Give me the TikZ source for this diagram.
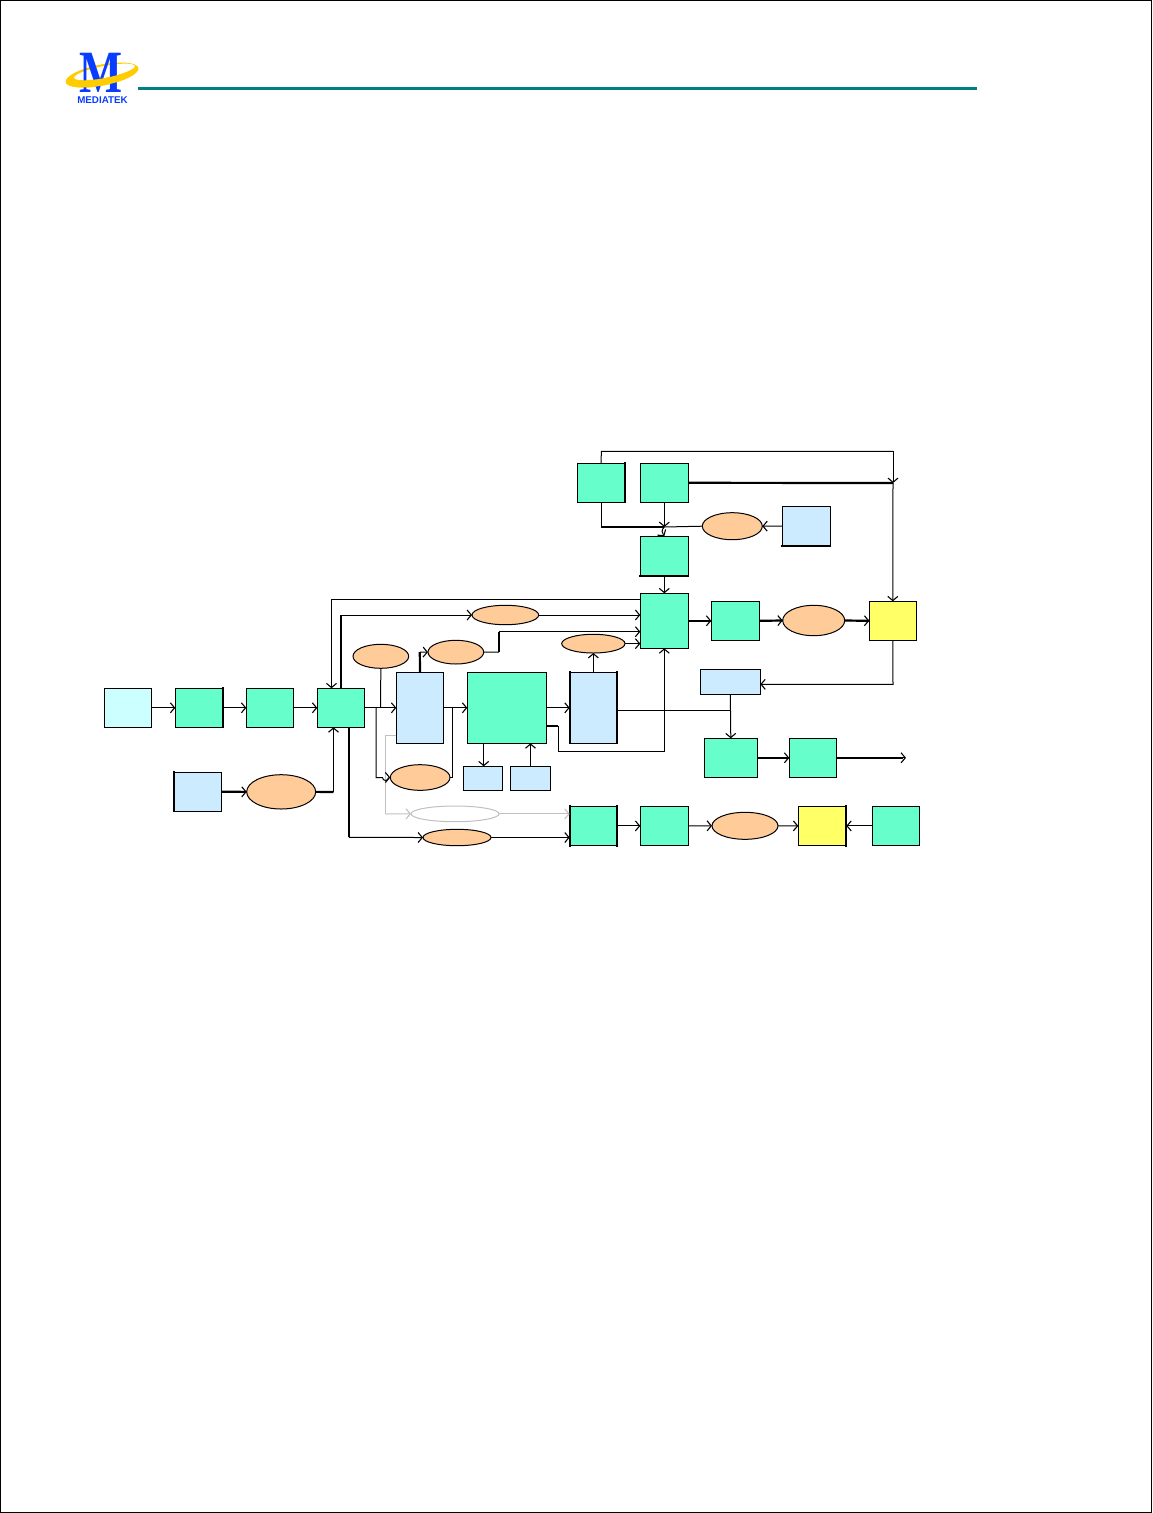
\documentclass[tikz,border=0pt]{standalone}
\usepackage{fontspec}
\setmainfont{Liberation Sans}
\newfontfamily\logoserif{Liberation Serif}
\usetikzlibrary{arrows.meta,shapes.geometric,calc}
\definecolor{grn}{HTML}{66FFCC}
\definecolor{cyn}{HTML}{CCFFFF}
\definecolor{blu}{HTML}{CCEBFF}
\definecolor{org}{HTML}{FFCC99}
\definecolor{yel}{HTML}{FFFF66}
\definecolor{teal2}{HTML}{008080}
\definecolor{logoblue}{HTML}{0A3CFF}
\definecolor{logogold}{HTML}{FFCC00}
\definecolor{gry}{HTML}{C0C0C0}
\tikzset{
  boxbase/.style={draw=black,line width=1pt,inner sep=0pt,outer sep=0pt},
  gbox/.style={boxbase,rectangle,fill=grn},
  cbox/.style={boxbase,rectangle,fill=cyn},
  bbox/.style={boxbase,rectangle,fill=blu},
  ybox/.style={boxbase,rectangle,fill=yel},
  oell/.style={boxbase,ellipse,fill=org},
  gell/.style={boxbase,ellipse,draw=gry,fill=white},
  wire/.style={line width=1pt,draw=black},
  thk/.style={line width=2.2pt,draw=black},
  side/.style={line width=2.2pt,draw=black,line cap=rect},
  tip/.style={-{Straight Barb[length=4.2pt,width=10pt,line width=1.1pt]}},
  gwire/.style={line width=1pt,draw=gry},
}
\newcommand\bx[6]{\node[#6,minimum width={(#4-#2)*1pt},minimum height={(#5-#3)*1pt}] (#1) at ({(#2+#4)/2},{(#3+#5)/2}) {};}
\newcommand\logoring{\fill[logogold,even odd rule,rotate around={11:(102,75)}] (102,75) ellipse [x radius=37,y radius=10.5] (105,72.5) ellipse [x radius=31,y radius=6];}
\begin{document}
\begin{tikzpicture}[x=1pt,y=-1pt]
\useasboundingbox (0,0) rectangle (1152,1513);
\draw[line width=1pt,black] (0.5,0.5) rectangle (1151.5,1512.5);
% logo
\logoring
\node[inner sep=0pt,text=logoblue,xscale=0.76,font=\logoserif\bfseries\fontsize{60}{60}\selectfont] (logoM) at (101.5,73) {M};
\begin{scope}
\clip[rotate around={11:(102,75)}] (60,75) rectangle (145,90);
\logoring
\end{scope}
\node[inner sep=0pt,text=logoblue,font=\bfseries\fontsize{9.8}{9.8}\selectfont] (logoT) at (102.5,100) {MEDIATEK};
\coordinate (ruleA) at (138,88.5);
\coordinate (ruleB) at (977,88.5);
\draw[teal2,line width=3pt] (ruleA) -- (ruleB);
% boxes
\bx{A}{104.3}{688.3}{151.7}{727.3}{cbox}
\bx{B}{175.3}{688.3}{223}{727.3}{gbox}
\bx{C}{246.3}{688.3}{293.7}{727.3}{gbox}
\bx{D}{317.3}{688.3}{364.3}{727.3}{gbox}
\bx{E}{174}{772.3}{221.3}{811.3}{bbox}
\bx{Eo}{246.7}{774.7}{315.7}{809}{oell}
\bx{e1}{472}{605.3}{538.7}{624.7}{oell}
\bx{e2}{353}{644.3}{408.7}{668.3}{oell}
\bx{e3}{428}{640.3}{483.7}{664}{oell}
\bx{e4}{561.7}{634.3}{625}{653}{oell}
\bx{e5}{390.3}{764.7}{450}{790.3}{oell}
\bx{e6}{423}{829.3}{491}{845.7}{oell}
\bx{eg}{411}{806}{499}{821.7}{gell}
\bx{F}{396.3}{672.3}{443.7}{743.3}{bbox}
\bx{G}{467.3}{672.3}{546.7}{743.3}{gbox}
\bx{H}{569.7}{672.3}{617}{743.3}{bbox}
\bx{s1}{463.3}{766.3}{502.7}{790.3}{bbox}
\bx{s2}{510.3}{766.3}{550.7}{790.3}{bbox}
\bx{I}{569.7}{806.3}{617}{845.5}{gbox}
\bx{J}{577.3}{463.3}{625}{502.3}{gbox}
\bx{K}{640.3}{463.3}{688.3}{502.3}{gbox}
\bx{e7}{702.3}{512.7}{762.3}{539.7}{oell}
\bx{L}{782.3}{506.3}{830.3}{546}{bbox}
\bx{M}{640.3}{536.3}{688.3}{576}{gbox}
\bx{N}{640.3}{593.3}{688.3}{648.3}{gbox}
\bx{O}{711.3}{601.3}{759.3}{640.3}{gbox}
\bx{e8}{782.7}{605.3}{844.7}{635.7}{oell}
\bx{Y}{869.3}{601.3}{916.3}{640.3}{ybox}
\bx{P}{700.3}{669.3}{760.3}{694.3}{bbox}
\bx{Q}{704.3}{738.3}{757.3}{777.3}{gbox}
\bx{R}{789.3}{738.3}{836.3}{777.3}{gbox}
\bx{S}{640.3}{806.3}{688.3}{845.5}{gbox}
\bx{e9}{712}{812.3}{778}{839.3}{oell}
\bx{T}{798.3}{806.3}{846.3}{845.5}{ybox}
\bx{U}{872.3}{806.3}{919.3}{845.5}{gbox}
% thick box sides
\draw[side] (B.north east) -- (B.south east);
\draw[side] (E.north west) -- (E.south west);
\draw[side] (H.north west) -- (H.south west);
\draw[side] (H.north east) -- (H.south east);
\draw[side] (I.north west) -- (I.south west);
\draw[side] (I.north east) -- (I.south east);
\draw[side] (J.north east) -- (J.south east);
\draw[side] (L.south west) -- (L.south east);
\draw[side] (M.south west) -- (M.south east);
\draw[side] (T.north east) -- (T.south east);
% named way points
\coordinate (x376) at (376,707.8);
\coordinate (x3805) at (380.5,707.8);
\coordinate (x4525) at (452.5,707.8);
\coordinate (gA) at (385.5,735);
\coordinate (gB) at (385.5,814);
\coordinate (hop) at (664.3,527);
\coordinate (wireK) at (893,483);
\coordinate (topL) at (601.3,451.3);
\coordinate (topR) at (893,451.3);
\coordinate (hJ) at (730.3,710.5);
% connectors: left chain
\draw[wire,tip] (A.east) -- (B.west);
\draw[wire,tip] (B.east) -- (C.west);
\draw[wire,tip] (C.east) -- (D.west);
\draw[thk] (E.east) -- (Eo.west);
\draw[wire,tip] (E.east) -- (Eo.west);
\draw[thk] (Eo.east) -- (333.5,792);
\draw[wire,tip] (333.5,792) -- (333.5,727.3);
% top feedback lines
\draw[wire,tip] (N.west |- 0,599.5) -- (331.5,599.5) -- (331.5,688.3);
\draw[thk] (D.north) -- (340.8,615);
\draw[wire,tip] (340.8,615) -- (e1.west);
\draw[wire,tip] (e1.east) -- (e1.east -| N.west);
% D to F and branches
\draw[wire,tip] (D.east) -- (F.west);
\draw[wire] (e2.south) -- (x3805);
\draw[gwire] (F.west |- gA) -- (gA) -- (gB);
\draw[gwire,tip] (gB) -- (eg.west);
\draw[gwire,tip] (eg.east) -- (I.west |- eg.east);
\draw[wire] (x376) -- (376,777.5) -- (382.5,777.5) arc[start angle=180,end angle=0,radius=3];
\draw[wire,tip] (388.5,777.5) -- (e5.west);
\draw[wire] (e5.east) -- (452.5,777.5) -- (x4525);
\draw[wire,tip] (F.east) -- (G.west);
% F top
\draw[thk] (F.north) -- (419.8,652);
\draw[wire,tip] (419.8,652) -- (e3.west);
\draw[wire] (e3.east) -- (499,652);
\draw[thk] (499,652) -- (499,631.7);
\draw[wire,tip] (499,631.7) -- (N.west |- 0,631.7);
% G and H
\draw[wire,tip] (G.east) -- (H.west);
\draw[wire,tip] (H.north) -- (e4.south);
\draw[wire,tip] (e4.east) -- (e4.east -| N.west);
\draw[wire,tip] (483.7,743.3) -- (483.7,766.3);
\draw[wire,tip] (s2.north) -- (s2.north |- G.south);
\draw[thk] (G.east |- 0,726) -- (558,726);
\draw[wire,tip] (558,726) -- (558,751) -- (664.3,751) -- (N.south);
\draw[wire] (H.east |- hJ) -- (hJ);
% bottom row
\draw[thk] (348.9,727.3) -- (348.9,837.4);
\draw[wire,tip] (348.9,837.4) -- (e6.west);
\draw[wire,tip] (e6.east) -- (I.west |- e6.east);
\draw[wire,tip] (I.east) -- (S.west);
\draw[wire,tip] (S.east) -- (e9.west);
\draw[wire,tip] (e9.east) -- (T.west);
\draw[wire,tip] (U.west) -- (T.east);
% upper right
\draw[wire] (J.north) -- (topL) -- (topR);
\draw[wire,tip] (topR) -- (wireK);
\draw[wire,tip] (wireK) -- (Y.north);
\draw[thk] (K.east) -- (wireK);
\draw[thk] (J.south |- hop) -- (hop);
\draw[wire] (J.south) -- (J.south |- hop);
\draw[wire,tip] (K.south) -- (hop);
\draw[wire] (e7.west) -- (hop);
\draw[wire,tip] (hop) .. controls (661,530) and (662,533) .. (M.north);
\draw[wire,tip] (L.west) -- (e7.east);
\draw[wire,tip] (M.south) -- (N.north);
\draw[thk] (N.east) -- (O.west);
\draw[wire,tip] (N.east) -- (O.west);
\draw[thk] (O.east) -- (e8.west);
\draw[wire,tip] (O.east) -- (e8.west);
\draw[thk] (e8.east) -- (Y.west);
\draw[wire,tip] (e8.east) -- (Y.west);
% right middle
\draw[wire,tip] (Y.south) -- (893,684.3) -- (P.east |- 0,684.3);
\draw[wire,tip] (P.south) -- (Q.north);
\draw[thk] (Q.east) -- (R.west);
\draw[wire,tip] (Q.east) -- (R.west);
\coordinate (endR) at (906,757.8);
\draw[thk] (R.east) -- (903,757.8);
\draw[wire,tip,line width=1.2pt] (900,757.8) -- (endR);
\end{tikzpicture}
\end{document}
